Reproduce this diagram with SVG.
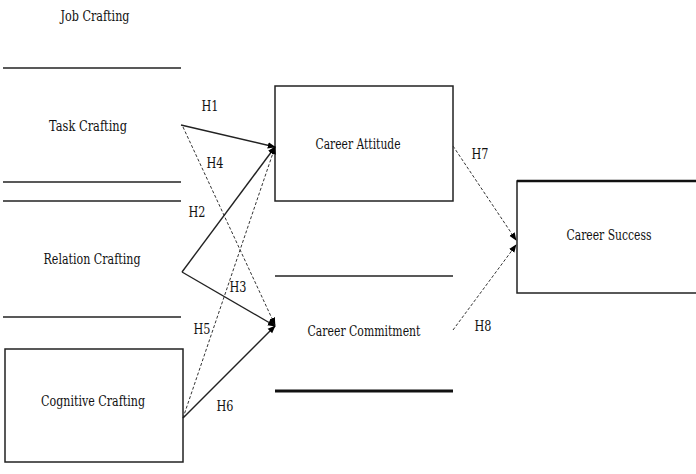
<svg xmlns="http://www.w3.org/2000/svg" width="696" height="474" viewBox="0 0 696 474">
<defs>
<style>
text{font-family:'DejaVu Serif','Liberation Serif',serif;font-size:15px;fill:#111;text-anchor:middle}
.box{fill:#fff;stroke:#222;stroke-width:1.5}
.hl{stroke:#222;stroke-width:1.5}
.s{stroke:#222;stroke-width:1.4;fill:none}
.d{stroke:#333;stroke-width:1;fill:none;stroke-dasharray:3,2}
</style>
<marker id="ah" viewBox="0 0 10 10" refX="9" refY="5" markerWidth="8" markerHeight="8" orient="auto" markerUnits="userSpaceOnUse">
<path d="M0,1 L10,5 L0,9 z" fill="#000"/>
</marker>
</defs>
<rect width="696" height="474" fill="#fff"/>
<g id="job-crafting">
<text x="95" y="21" textLength="69" lengthAdjust="spacingAndGlyphs">Job Crafting</text>
</g>
<g id="task-crafting">
<line class="hl" x1="3" y1="68" x2="181" y2="68"/>
<line class="hl" x1="3" y1="182" x2="181" y2="182"/>
<text x="88" y="131" textLength="78" lengthAdjust="spacingAndGlyphs">Task Crafting</text>
</g>
<g id="relation-crafting">
<line class="hl" x1="3" y1="201" x2="181" y2="201"/>
<line class="hl" x1="3" y1="317" x2="181" y2="317"/>
<text x="92" y="264" textLength="97" lengthAdjust="spacingAndGlyphs">Relation Crafting</text>
</g>
<g id="cognitive-crafting">
<rect class="box" x="5" y="349" width="178" height="113"/>
<text x="93" y="406" textLength="104" lengthAdjust="spacingAndGlyphs">Cognitive Crafting</text>
</g>
<g id="career-attitude">
<rect class="box" x="275" y="86" width="178" height="115"/>
<text x="358" y="149" textLength="85" lengthAdjust="spacingAndGlyphs">Career Attitude</text>
</g>
<g id="career-commitment">
<line class="hl" x1="275" y1="276" x2="453" y2="276"/>
<line x1="275" y1="391" x2="453" y2="391" stroke="#111" stroke-width="3"/>
<text x="364" y="336" textLength="113" lengthAdjust="spacingAndGlyphs">Career Commitment</text>
</g>
<g id="career-success">
<rect class="box" x="517" y="181" width="181" height="112"/>
<line x1="517" y1="181" x2="696" y2="181" stroke="#111" stroke-width="2.5"/>
<text x="609" y="240" textLength="85" lengthAdjust="spacingAndGlyphs">Career Success</text>
</g>
<g id="connectors">
<line class="s" x1="181" y1="125" x2="275" y2="147" marker-end="url(#ah)"/>
<line class="d" x1="183" y1="127" x2="275" y2="325" marker-end="url(#ah)"/>
<line class="s" x1="182" y1="272" x2="275" y2="147" marker-end="url(#ah)"/>
<line class="s" x1="182" y1="272" x2="275" y2="326" marker-end="url(#ah)"/>
<line class="d" x1="183" y1="418" x2="275" y2="147" marker-end="url(#ah)"/>
<line class="s" x1="183" y1="418" x2="275" y2="326" marker-end="url(#ah)"/>
<line class="d" x1="453" y1="146" x2="516" y2="240" marker-end="url(#ah)" stroke-width="1.3"/>
<line class="d" x1="453" y1="330" x2="516" y2="245" marker-end="url(#ah)" stroke-width="1.3"/>
<text x="210" y="111" textLength="17" lengthAdjust="spacingAndGlyphs">H1</text>
<text x="215" y="168" textLength="17" lengthAdjust="spacingAndGlyphs">H4</text>
<text x="197" y="217" textLength="17" lengthAdjust="spacingAndGlyphs">H2</text>
<text x="238" y="292" textLength="17" lengthAdjust="spacingAndGlyphs">H3</text>
<text x="202" y="334" textLength="17" lengthAdjust="spacingAndGlyphs">H5</text>
<text x="225" y="411" textLength="17" lengthAdjust="spacingAndGlyphs">H6</text>
<text x="480" y="159" textLength="17" lengthAdjust="spacingAndGlyphs">H7</text>
<text x="483" y="331" textLength="17" lengthAdjust="spacingAndGlyphs">H8</text>
</g>
</svg>
